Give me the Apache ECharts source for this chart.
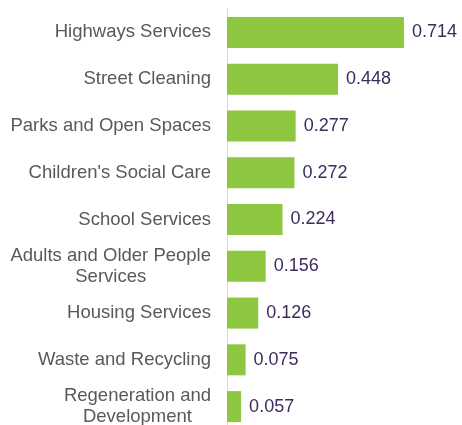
<!DOCTYPE html>
<html>
<head>
<meta charset="utf-8">
<script src="https://cdn.jsdelivr.net/npm/echarts@6/dist/echarts.min.js"></script>
<style>
  html, body { margin: 0; padding: 0; background: #fff; }
  #chart { width: 462px; height: 425px; }
</style>
</head>
<body>
<div id="chart"></div>
<script>
var categories = [
  'Highways Services',
  'Street Cleaning',
  'Parks and Open Spaces',
  "Children's Social Care",
  'School Services',
  'Adults and Older People\nServices',
  'Housing Services',
  'Waste and Recycling',
  'Regeneration and\nDevelopment'
]
var values = [0.714, 0.448, 0.277, 0.272, 0.224, 0.156, 0.126, 0.075, 0.057]

var chart = echarts.init(document.getElementById('chart'))

var option = {
  animation: false,
  grid: {
    left: 227,
    top: 9,
    width: 223,
    height: 421,
    containLabel: false,
    outerBoundsMode: 'none'
  },
  xAxis: {
    type: 'value',
    min: 0,
    max: 0.9,
    show: false
  },
  yAxis: {
    type: 'category',
    inverse: true,
    data: categories,
    axisLine: {
      show: true,
      lineStyle: { color: '#d9d9d9', width: 1 }
    },
    axisTick: { show: false },
    axisLabel: {
      margin: 16,
      color: '#595959',
      fontFamily: 'Liberation Sans, Arial, sans-serif',
      fontSize: 18.5,
      lineHeight: 21,
      formatter: function (v) {
        // centre each line of wrapped labels within the block
        return v.split('\n').map(function (s) { return '{c|' + s + '}' }).join('\n')
      },
      rich: {
        c: {
          align: 'center',
          color: '#595959',
          fontFamily: 'Liberation Sans, Arial, sans-serif',
          fontSize: 18.5,
          lineHeight: 21
        }
      }
    }
  },
  series: [
    {
      type: 'bar',
      data: values,
      barWidth: 31,
      itemStyle: { color: '#8dc63f' },
      label: {
        show: true,
        position: 'right',
        distance: 8,
        color: '#3d2b5e',
        fontFamily: 'Liberation Sans, Arial, sans-serif',
        fontSize: 18,
        formatter: function (p) { return p.value.toFixed(3) }
      }
    }
  ]
}
chart.setOption(option)
</script>
</body>
</html>
